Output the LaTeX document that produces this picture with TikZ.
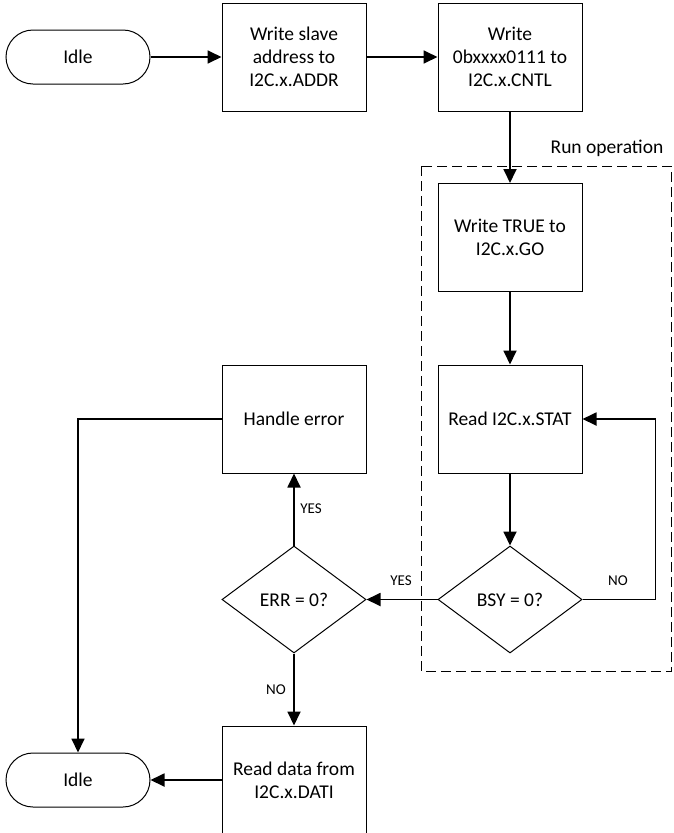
\documentclass[tikz,border=0pt]{standalone}
\usepackage{fontspec}
\setmainfont{Carlito}
\usetikzlibrary{shapes.geometric,arrows.meta}
\begin{document}
\begin{tikzpicture}[x=1pt,y=-1pt,
 txt/.style={font=\fontsize{19.5}{23}\selectfont},
 box/.style={txt,draw,line width=1pt,minimum width=144pt,minimum height=108pt,inner sep=0pt,align=center},
 term/.style={txt,draw,line width=1pt,rounded corners=27pt,minimum width=144pt,minimum height=54pt,inner sep=0pt},
 dec/.style={txt,draw,diamond,line width=1pt,minimum width=144pt,minimum height=107pt,inner sep=0pt},
 conn/.style={line width=1.8pt,-{Triangle[length=14pt,width=13pt]}},
 lab/.style={font=\fontsize{15}{18}\selectfont,inner sep=0pt}]
\useasboundingbox (0,0) rectangle (673,833);
% group
\draw[line width=1pt,dash pattern=on 10pt off 5pt] (421,166) rectangle (671.5,671);
\node[txt] (runop) at (607,148) {Run operation};
% nodes
\node[term] (idle1) at (78,57) {Idle};
\node[box] (addr) at (294,57) {Write slave\\address to\\I2C.x.ADDR};
\node[box] (cntl) at (510,57) {Write\\0bxxxx0111 to\\I2C.x.CNTL};
\node[box] (go) at (510,237.5) {Write TRUE to\\I2C.x.GO};
\node[box] (stat) at (510,419) {Read I2C.x.STAT};
\node[dec] (bsy) at (510,599.5) {BSY = 0?};
\node[dec] (err) at (294,599.5) {ERR = 0?};
\node[box] (handle) at (294,419) {Handle error};
\node[box] (dati) at (294,780) {Read data from\\I2C.x.DATI};
\node[term] (idle2) at (78,780) {Idle};
% connectors
\draw[conn] (idle1) -- (addr);
\draw[conn] (addr) -- (cntl);
\draw[conn] (cntl) -- (go);
\draw[conn] (go) -- (stat);
\draw[conn] (stat) -- (bsy);
\draw[conn] (bsy.east) -- ++(73,0) |- (stat.east);
\draw[conn] (bsy.west) -- (err.east);
\draw[conn] (err.north) -- (handle.south);
\draw[conn] (err.south) -- (dati.north);
\draw[conn] (handle.west) -| (idle2.north);
\draw[conn] (dati.west) -- (idle2.east);
% labels
\node[lab] (no1) at (618,581) {NO};
\node[lab] (yes1) at (401,581) {YES};
\node[lab] (yes2) at (311,509) {YES};
\node[lab] (no2) at (276,690) {NO};
\end{tikzpicture}
\end{document}
